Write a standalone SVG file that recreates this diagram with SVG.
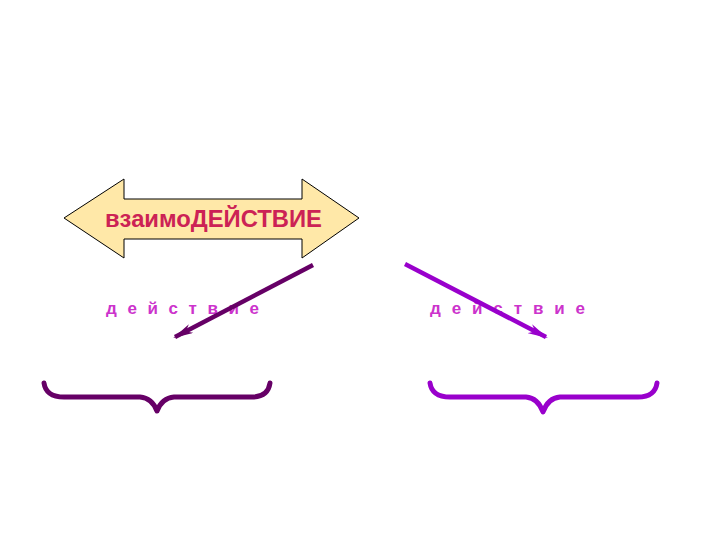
<svg xmlns="http://www.w3.org/2000/svg" width="720" height="540" viewBox="0 0 720 540">
<style>
.lbl{font-family:"Liberation Sans",Arial,sans-serif;font-weight:bold}
.act{font-family:"Liberation Sans",Arial,sans-serif;font-size:17px;font-weight:bold;fill:#CC33CC}
.brace{fill:none;stroke-width:5;stroke-linecap:round;stroke-linejoin:round}
</style>
<defs>
<marker id="ahDark" viewBox="0 0 10 10" refX="9" refY="5" markerWidth="4.5" markerHeight="2.2" orient="auto" markerUnits="strokeWidth" preserveAspectRatio="none">
<path d="M0,0 L10,5 L0,10 L3,5 z" fill="#660066"/>
</marker>
<marker id="ahViolet" viewBox="0 0 10 10" refX="9" refY="5" markerWidth="4.5" markerHeight="2.2" orient="auto" markerUnits="strokeWidth" preserveAspectRatio="none">
<path d="M0,0 L10,5 L0,10 L3,5 z" fill="#9900CC"/>
</marker>
</defs>
<rect width="720" height="540" fill="#FFFFFF"/>
<g id="interaction">
<polygon points="64,218 124,179 124,199 302,199 302,179 359,218 302,258 302,239 124,239 124,258" fill="#FFE8A8" stroke="#000000" stroke-width="1"/>
<text class="lbl" x="105" y="227" font-size="23" fill="#CC2255" textLength="217" lengthAdjust="spacingAndGlyphs">взаимоДЕЙСТВИЕ</text>
</g>
<g id="action-left">
<text class="act" x="106" y="314" textLength="153" lengthAdjust="spacing">д е й с т в и е</text>
</g>
<g id="action-right">
<text class="act" x="430" y="314" textLength="155" lengthAdjust="spacing">д е й с т в и е</text>
</g>
<g id="connectors">
<line x1="313" y1="265" x2="175" y2="337" stroke="#660066" stroke-width="4.5" marker-end="url(#ahDark)"/>
<line x1="405" y1="264" x2="546" y2="337" stroke="#9900CC" stroke-width="4.5" marker-end="url(#ahViolet)"/>
</g>
<g id="brace-left">
<path class="brace" stroke="#660066" d="M44,383 Q46,397 64,397 L140,397 Q152,398 157,411 Q162,398 174,397 L252,397 Q268,397 270,383"/>
</g>
<g id="brace-right">
<path class="brace" stroke="#9900CC" d="M430,383 Q432,397 450,397 L526,397 Q538,398 543,412 Q548,398 560,397 L638,397 Q655,397 657,383"/>
</g>
</svg>
